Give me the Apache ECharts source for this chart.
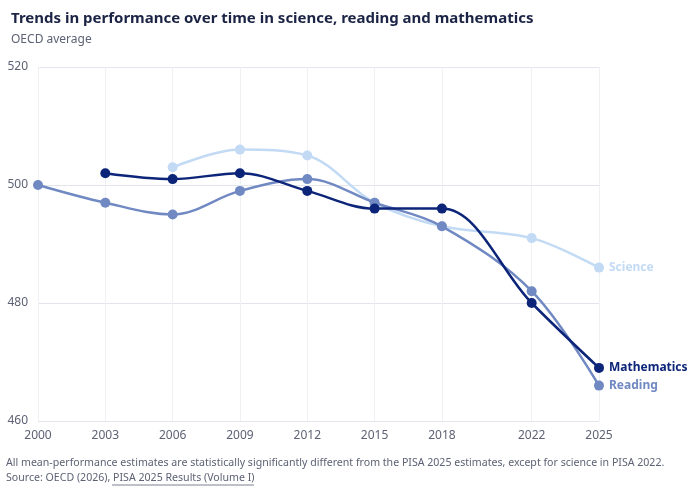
<!DOCTYPE html>
<html>
<head>
<meta charset="utf-8">
<script src="https://cdn.jsdelivr.net/npm/echarts@6/dist/echarts.min.js"></script>
<style>
  html, body { margin: 0; padding: 0; background: #fff; }
  #chart { width: 690px; height: 489px; }
</style>
</head>
<body>
<div id="chart"></div>
<script>
// years on the x axis (not evenly spaced: 2018 -> 2022)
const years = [2000, 2003, 2006, 2009, 2012, 2015, 2018, 2022, 2025]
const yTicks = [460, 480, 500, 520]

// OECD average scores
const science = [null, null, 503, 506, 505, 497, 493, 491, 486]
const reading = [500, 497, 495, 499, 501, 497, 493, 482, 466]
const mathematics = [null, 502, 501, 502, 499, 496, 496, 480, 469]

const colors = { Science: '#c3daf5', Reading: '#7189c2', Mathematics: '#0c2579' }
const font = 'Noto Sans'

const pairs = (vals) => years.map((y, i) => [y, vals[i]]).filter(p => p[1] !== null)

const makeSeries = (name, vals, z) => ({
    name: name,
    type: 'line',
    data: pairs(vals),
    smooth: 0.35,
    z: z,
    symbol: 'circle',
    symbolSize: 10,
    showSymbol: true,
    lineStyle: { width: 2.5, color: colors[name] },
    itemStyle: { color: colors[name] },
    endLabel: {
        show: true,
        formatter: '{a}',
        color: colors[name],
        fontFamily: font,
        fontWeight: 'bold',
        fontSize: 12,
        distance: 10
    },
    emphasis: { disabled: true }
})

const chart = echarts.init(document.getElementById('chart'))
const option = {
    animation: false,
    textStyle: { fontFamily: font },
    title: [
        {
            text: 'Trends in performance over time in science, reading and mathematics',
            left: 6, top: 6,
            textStyle: { fontFamily: font, fontSize: 15, fontWeight: 'bold', color: '#1b2445' }
        },
        {
            text: 'OECD average',
            left: 6, top: 29,
            textStyle: { fontFamily: font, fontSize: 12, fontWeight: 'normal', color: '#5d6274' }
        }
    ],
    grid: { left: 38, right: 91, top: 67, bottom: 68 },
    xAxis: {
        type: 'value',
        min: 2000, max: 2025,
        axisLine: { show: false },
        axisTick: { show: false },
        splitLine: { show: false },
        axisLabel: {
            customValues: years,
            color: '#5d6274', fontSize: 12, fontFamily: font, margin: 9,
            formatter: (v) => String(v)
        }
    },
    yAxis: {
        type: 'value',
        min: yTicks[0], max: yTicks[yTicks.length - 1], interval: 20,
        axisLine: { show: false },
        axisTick: { show: false },
        axisLabel: { color: '#5d6274', fontSize: 12, fontFamily: font, margin: 10 },
        splitLine: { lineStyle: { color: '#e3e5ec', width: 1.2 } }
    },
    series: [
        {
            // vertical grid lines at each survey year
            type: 'line',
            data: [],
            silent: true,
            z: 0,
            markLine: {
                silent: true,
                symbol: 'none',
                z: 0,
                label: { show: false },
                lineStyle: { color: '#eef0f4', width: 1, type: 'solid' },
                data: years.map(y => ({ xAxis: y }))
            }
        },
        makeSeries('Science', science, 2),
        makeSeries('Reading', reading, 3),
        makeSeries('Mathematics', mathematics, 4)
    ],
    graphic: [
        {
            type: 'text', left: 6, top: 457,
            style: {
                text: 'All mean-performance estimates are statistically significantly different from the PISA 2025 estimates, except for science in PISA 2022.',
                font: '10.6px "Noto Sans"', fill: '#5d6274'
            }
        },
        {
            type: 'text', left: 6, top: 472,
            style: { text: 'Source: OECD (2026), PISA 2025 Results (Volume I)', font: '10.6px "Noto Sans"', fill: '#5d6274' }
        },
        {
            type: 'line', shape: { x1: 112, y1: 485, x2: 254, y2: 485 },
            style: { stroke: '#5d6274', lineWidth: 0.8 }
        }
    ]
}
chart.setOption(option)
</script>
</body>
</html>
